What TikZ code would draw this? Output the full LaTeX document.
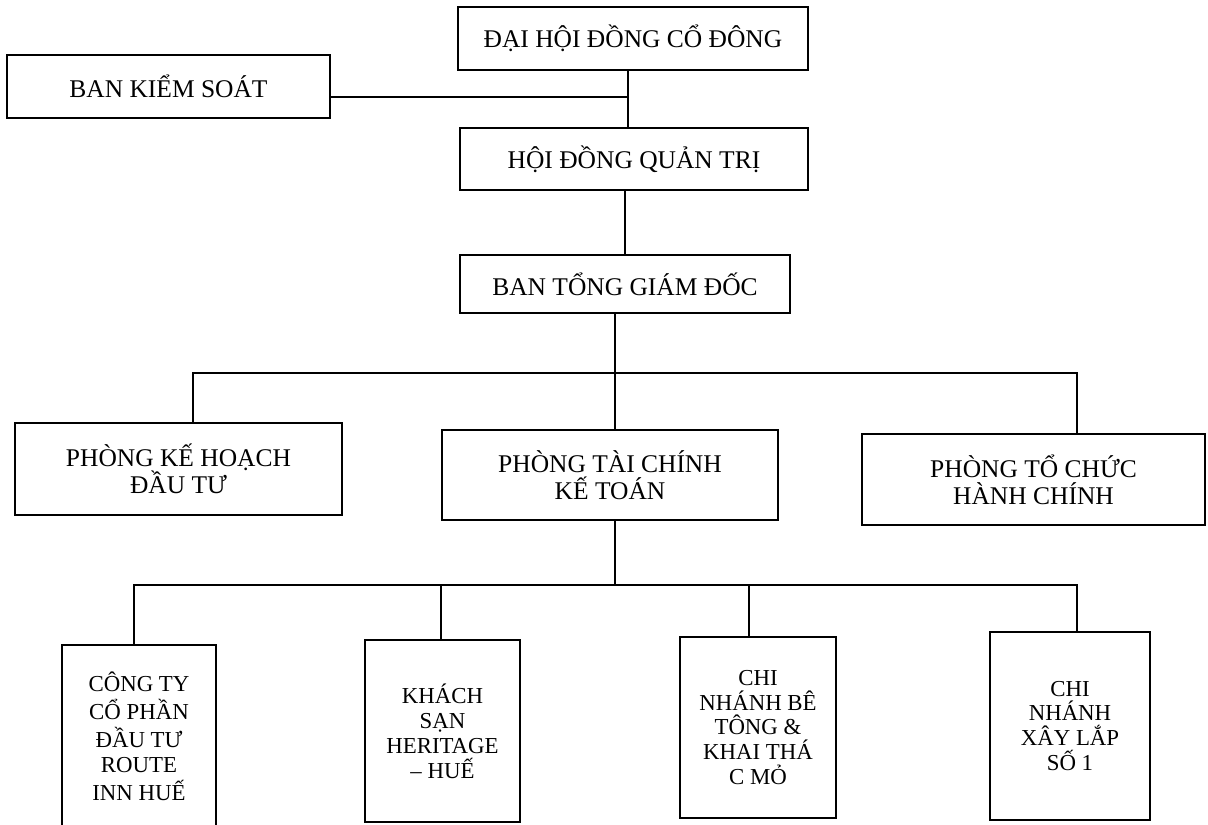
\documentclass[tikz,border=0pt]{standalone}
\usepackage{fontspec}
\setmainfont{Liberation Serif}
\begin{document}
\begin{tikzpicture}[x=0.02cm,y=-0.02cm,
  orgbox/.style={draw,line width=0.8pt,inner sep=0pt,align=center,
    font=\fontsize{14.5}{15.3}\selectfont},
  unitbox/.style={draw,line width=0.8pt,inner sep=0pt,align=center,
    font=\fontsize{13}{14.2}\selectfont},
  conn/.style={line width=0.8pt}]
\useasboundingbox (0,0) rectangle (1208,825);
\clip (0,0) rectangle (1208,825);
% top levels
\node[orgbox,minimum width=7cm,minimum height=1.26cm] (dh) at (633,38.5) {ĐẠI HỘI ĐỒNG CỔ ĐÔNG};
\node[orgbox,minimum width=6.46cm,minimum height=1.26cm] (bks) at (168.5,86.5) {BAN KIỂM SOÁT};
\node[orgbox,minimum width=6.96cm,minimum height=1.24cm] (hd) at (634,159) {HỘI ĐỒNG QUẢN TRỊ};
\node[orgbox,minimum width=6.6cm,minimum height=1.16cm] (bt) at (625,284) {BAN TỔNG GIÁM ĐỐC};
% departments
\node[orgbox,minimum width=6.54cm,minimum height=1.84cm] (pk) at (178.5,469) {PHÒNG KẾ HOẠCH\\ĐẦU TƯ};
\node[orgbox,minimum width=6.72cm,minimum height=1.8cm] (pt) at (610,475) {PHÒNG TÀI CHÍNH\\KẾ TOÁN};
\node[orgbox,minimum width=6.86cm,minimum height=1.82cm] (pc) at (1033.5,479.5) {PHÒNG TỔ CHỨC\\HÀNH CHÍNH};
% units
\node[unitbox,minimum width=3.08cm,minimum height=3.8cm] (u1) at (139,740)
  {\raisebox{0.3cm}{\begin{tabular}{@{}c@{}}CÔNG TY\\CỔ PHẦN\\ĐẦU TƯ\\ROUTE\\INN HUẾ\end{tabular}}};
\node[unitbox,minimum width=3.1cm,minimum height=3.64cm] (u2) at (442.5,731) {KHÁCH\\SẠN\\HERITAGE\\– HUẾ};
\node[unitbox,minimum width=3.12cm,minimum height=3.62cm] (u3) at (758,727.5) {CHI\\NHÁNH BÊ\\TÔNG \&\\KHAI THÁ\\C MỎ};
\node[unitbox,minimum width=3.2cm,minimum height=3.76cm] (u4) at (1070,726) {CHI\\NHÁNH\\XÂY LẮP\\SỐ 1};
% junction points
\coordinate (j0) at (628,97);
\coordinate (aL) at (193,373);
\coordinate (aM) at (615,373);
\coordinate (aR) at (1077,373);
\coordinate (c1) at (134,585);
\coordinate (c2) at (441,585);
\coordinate (c3) at (749,585);
\coordinate (c4) at (1077,585);
\coordinate (cM) at (615,585);
% connectors
\draw[conn] (dh.south -| j0) -- (hd.north -| j0);
\draw[conn] (bks.east |- j0) -- (j0);
\draw[conn] (hd.south -| bt.north) -- (bt.north);
\draw[conn] (bt.south -| aM) -- (aM);
\draw[conn] (pk.north -| aL) -- (aL) -- (aR) -- (pc.north -| aR);
\draw[conn] (aM) -- (pt.north -| aM);
\draw[conn] (pt.south -| cM) -- (cM);
\draw[conn] (u1.north -| c1) -- (c1) -- (c4) -- (u4.north -| c4);
\draw[conn] (c2) -- (u2.north -| c2);
\draw[conn] (c3) -- (u3.north -| c3);
\end{tikzpicture}
\end{document}
